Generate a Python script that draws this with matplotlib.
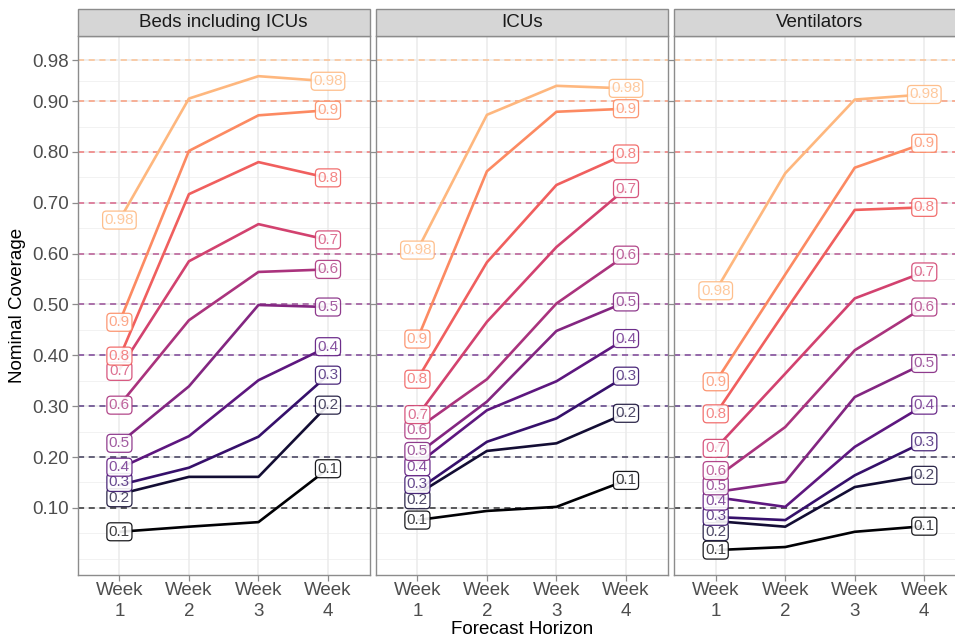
import numpy as np
import matplotlib
matplotlib.use("Agg")
import matplotlib.pyplot as plt
from matplotlib.patches import Rectangle

plt.rcParams['font.family'] = ['Liberation Sans', 'DejaVu Sans']

# nominal levels and forecast horizons
levels = [0.1, 0.2, 0.3, 0.4, 0.5, 0.6, 0.7, 0.8, 0.9, 0.98]
level_labels = ["0.1", "0.2", "0.3", "0.4", "0.5", "0.6", "0.7", "0.8", "0.9", "0.98"]
weeks = ["Week\n1", "Week\n2", "Week\n3", "Week\n4"]
panels = ["Beds including ICUs", "ICUs", "Ventilators"]
ytick_vals = [0.1, 0.2, 0.3, 0.4, 0.5, 0.6, 0.7, 0.8, 0.9, 0.98]
ytick_labels = ["0.10", "0.20", "0.30", "0.40", "0.50", "0.60", "0.70", "0.80", "0.90", "0.98"]

# empirical coverage, one row per nominal level (0.1 ... 0.98)
beds = [
    [0.053, 0.063, 0.072, 0.177],
    [0.127, 0.161, 0.161, 0.302],
    [0.145, 0.179, 0.240, 0.361],
    [0.178, 0.241, 0.351, 0.417],
    [0.227, 0.339, 0.499, 0.495],
    [0.302, 0.469, 0.564, 0.569],
    [0.372, 0.585, 0.658, 0.627],
    [0.395, 0.717, 0.780, 0.749],
    [0.465, 0.802, 0.872, 0.882],
    [0.666, 0.905, 0.949, 0.939],
]
icus = [
    [0.076, 0.094, 0.102, 0.154],
    [0.127, 0.212, 0.227, 0.286],
    [0.135, 0.230, 0.276, 0.359],
    [0.186, 0.292, 0.349, 0.433],
    [0.206, 0.309, 0.448, 0.505],
    [0.256, 0.353, 0.502, 0.597],
    [0.281, 0.466, 0.613, 0.728],
    [0.353, 0.583, 0.735, 0.796],
    [0.432, 0.762, 0.879, 0.885],
    [0.607, 0.873, 0.930, 0.925],
]
vents = [
    [0.017, 0.023, 0.053, 0.064],
    [0.074, 0.063, 0.141, 0.164],
    [0.082, 0.076, 0.164, 0.230],
    [0.121, 0.102, 0.220, 0.302],
    [0.131, 0.151, 0.318, 0.384],
    [0.159, 0.259, 0.410, 0.495],
    [0.217, 0.364, 0.512, 0.564],
    [0.285, 0.487, 0.686, 0.691],
    [0.348, 0.559, 0.769, 0.817],
    [0.527, 0.758, 0.903, 0.913],
]
panel_data = [beds, icus, vents]

colors = plt.cm.magma(np.linspace(0, 0.85, len(levels)))


def repel(ys, sep, n_iter=200):
    # push label positions apart in 1D so boxes do not sit on top of each other
    ys = np.array(ys, dtype=float)
    order = np.argsort(ys)
    pos = ys[order].copy()
    for _ in range(n_iter):
        moved = False
        for k in range(len(pos) - 1):
            gap = pos[k + 1] - pos[k]
            if gap < sep:
                d = (sep - gap) / 2
                pos[k] -= d
                pos[k + 1] += d
                moved = True
        if not moved:
            break
    out = np.empty_like(pos)
    out[order] = pos
    return out


W, H = 955, 641
fig = plt.figure(figsize=(W / 100, H / 100), dpi=100)

panel_left = [77.7, 375.7, 674.0]
panel_w = 292.0
panel_top, panel_bot = 36.0, 575.0
strip_h = 27.0

x = np.arange(1, len(weeks) + 1)
minor_y = [0.0, 0.05, 0.15, 0.25, 0.35, 0.45, 0.55, 0.65, 0.75, 0.85, 0.94]

for p, (name, data) in enumerate(zip(panels, panel_data)):
    ax = fig.add_axes([panel_left[p] / W, 1 - panel_bot / H,
                       panel_w / W, (panel_bot - panel_top) / H])
    ax.set_xlim(0.4, 4.6)
    ax.set_ylim(-0.032, 1.028)

    # grid
    for yv in minor_y:
        ax.axhline(yv, color='#f0f0f0', lw=0.6, zorder=0)
    for yv in ytick_vals:
        ax.axhline(yv, color='#ebebeb', lw=1.1, zorder=0)
    for xv in x:
        ax.axvline(xv, color='#ebebeb', lw=1.1, zorder=0)

    # nominal level reference lines
    for i, lv in enumerate(levels):
        ax.axhline(lv, color=colors[i], lw=1.1, ls=(0, (4, 3)), alpha=0.8, zorder=1)

    for i, lv in enumerate(levels):
        ax.plot(x, data[i], color=colors[i], lw=1.9, zorder=2 + i * 0.01,
                solid_capstyle='butt')

    # end labels
    for j in (0, len(weeks) - 1):
        ys = repel([data[i][j] for i in range(len(levels))], sep=0.03)
        for i, lv in enumerate(levels):
            ax.text(x[j], ys[i], level_labels[i], ha='center', va='center',
                    fontsize=11, color=colors[i], alpha=0.75, zorder=5 + i * 0.01,
                    bbox=dict(boxstyle='round,pad=0.13,rounding_size=0.25',
                              fc='white', ec=colors[i], lw=0.9, alpha=0.9))

    ax.set_xticks(x)
    ax.set_xticklabels(weeks, fontsize=13.5, color='#4d4d4d', linespacing=1.3)
    ax.set_yticks(ytick_vals)
    if p == 0:
        ax.set_yticklabels(ytick_labels, fontsize=13.5, color='#4d4d4d')
        ax.set_ylabel("Nominal Coverage", fontsize=13.5, labelpad=5)
    else:
        ax.set_yticklabels([])
        ax.tick_params(axis='y', length=0)
    if p == 1:
        ax.set_xlabel("Forecast Horizon", fontsize=13.5, labelpad=1)
    ax.tick_params(axis='both', color='#8c8c8c', length=4, width=0.9, pad=2)
    ax.tick_params(axis='x', pad=1)
    for s in ax.spines.values():
        s.set_color('#8c8c8c')
        s.set_linewidth(1.0)

    # facet strip
    strip = Rectangle((panel_left[p] / W, 1 - panel_top / H), panel_w / W, strip_h / H,
                      transform=fig.transFigure, fc='#d6d6d6', ec='#8c8c8c', lw=1.0)
    fig.add_artist(strip)
    fig.text((panel_left[p] + panel_w / 2) / W, 1 - (panel_top - strip_h / 2) / H, name,
             ha='center', va='center', fontsize=13.5, color='#1a1a1a')

fig.savefig("out.png", dpi=100, facecolor='white')
